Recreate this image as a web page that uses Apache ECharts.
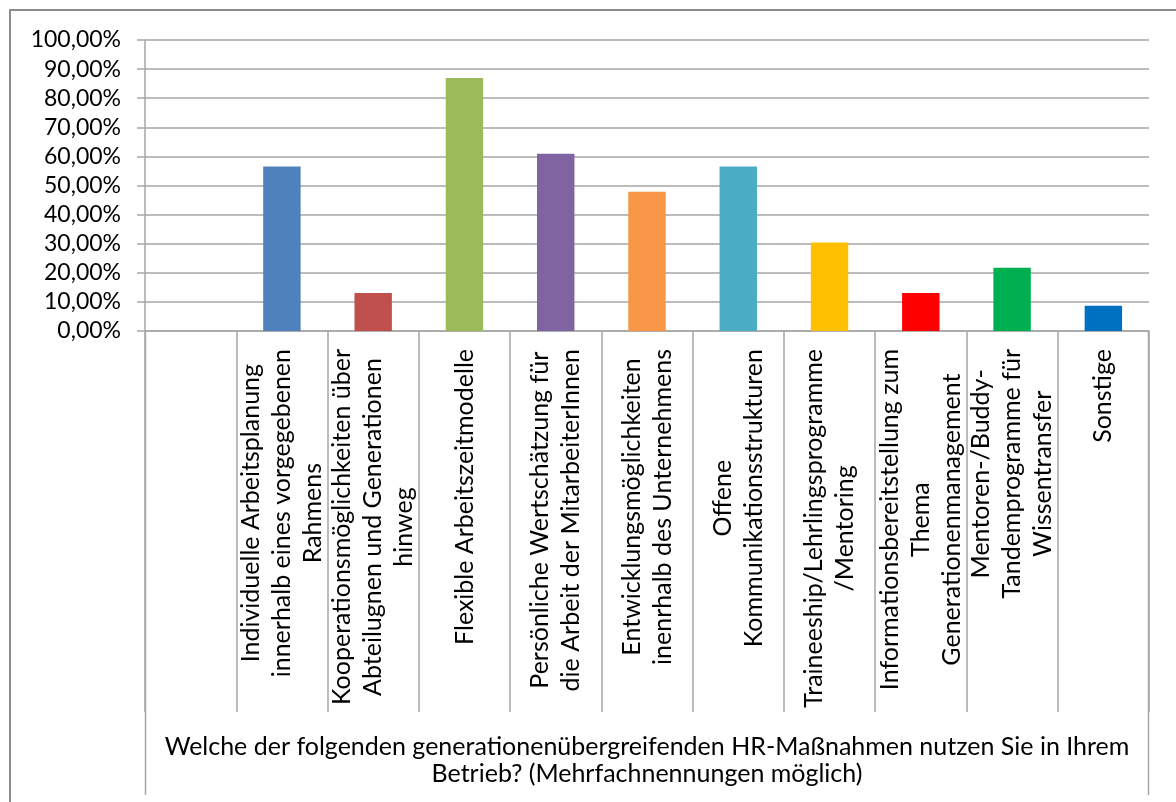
<!DOCTYPE html>
<html>
<head>
<meta charset="utf-8">
<script src="https://cdn.jsdelivr.net/npm/echarts@6/dist/echarts.min.js"></script>
<style>
html,body{margin:0;padding:0;background:#fff;overflow:hidden;}
#chart{width:1176px;height:802px;}
</style>
</head>
<body>
<div id="chart"></div>
<script>
const categories = [
  '',
  'Individuelle Arbeitsplanung\ninnerhalb eines vorgegebenen\nRahmens',
  'Kooperationsmöglichkeiten über\nAbteilugnen und Generationen\nhinweg',
  'Flexible Arbeitszeitmodelle',
  'Persönliche Wertschätzung für\ndie Arbeit der MitarbeiterInnen',
  'Entwicklungsmöglichkeiten\ninenrhalb des Unternehmens',
  'Offene\nKommunikationsstrukturen',
  'Traineeship/Lehrlingsprogramme\n/Mentoring',
  'Informationsbereitstellung zum\nThema\nGenerationenmanagement',
  'Mentoren-/Buddy-\nTandemprogramme für\nWissentransfer',
  'Sonstige'
];
const values = [null, 56.52, 13.04, 86.96, 60.87, 47.83, 56.52, 30.43, 13.04, 21.74, 8.70];
const barColors = ['#4F81BD', '#4F81BD', '#C0504D', '#9BBB59', '#8064A2', '#F79646', '#4BACC6', '#FFC000', '#FF0000', '#00B050', '#0070C0'];
const groupTitle = 'Welche der folgenden generationenübergreifenden HR-Maßnahmen nutzen Sie in Ihrem\nBetrieb? (Mehrfachnennungen möglich)';
const yTicks = {min: 0, max: 100, interval: 10};

const FONT = 'Lato';
const GRID_COLOR = '#a6a6a6';
const GROUP_TICK_LEN = 464;
const frame = {
  type: 'rect', silent: true, z: -10,
  shape: {x: 10, y: 10, width: 1250, height: 900},
  style: {fill: 'none', stroke: '#8c8c8c', lineWidth: 2}
};
const chart = echarts.init(document.getElementById('chart'), null, {renderer: 'canvas'});
chart.setOption({
  animation: false,
  backgroundColor: '#fff',
  textStyle: {fontFamily: FONT},
  graphic: [frame],
  grid: {left: 145, top: 40, right: 27, bottom: 471, containLabel: false},
  xAxis: [{
    type: 'category',
    data: categories,
    position: 'bottom',
    axisLine: {show: true, lineStyle: {color: GRID_COLOR, width: 1.5}},
    axisTick: {show: true, interval: 0, length: 381, lineStyle: {color: GRID_COLOR, width: 1.5}},
    axisLabel: {
      interval: 0, rotate: 90, margin: 18,
      color: '#000', fontFamily: FONT, fontSize: 25,
      formatter: function (v) {
        if (!v) return '';
        return v.split('\n').map(function (l) { return '{c|' + l + '}'; }).join('\n');
      },
      rich: {c: {align: 'center', fontFamily: FONT, fontSize: 25, lineHeight: 31, color: '#000'}}
    },
    splitLine: {show: false}
  }, {
    type: 'value',
    min: 0, max: 1, interval: 1,
    position: 'bottom',
    offset: 0,
    name: groupTitle,
    nameLocation: 'middle',
    nameGap: 402,
    nameTextStyle: {color: '#000', fontFamily: FONT, fontSize: 25, lineHeight: 27, align: 'center', verticalAlign: 'top'},
    axisLine: {show: false},
    axisTick: {show: false},
    axisLabel: {show: false},
    splitLine: {show: false}
  }],
  yAxis: {
    type: 'value',
    min: yTicks.min, max: yTicks.max, interval: yTicks.interval,
    axisLine: {show: true, lineStyle: {color: GRID_COLOR, width: 1.5}},
    axisTick: {show: true, length: 8, lineStyle: {color: GRID_COLOR, width: 1.5}},
    axisLabel: {
      margin: 24, color: '#000', fontFamily: FONT, fontSize: 23,
      formatter: function (v) { return v.toFixed(2).replace('.', ',') + '%'; }
    },
    splitLine: {show: true, lineStyle: {color: GRID_COLOR, width: 1.5}}
  },
  series: [{
    type: 'bar',
    xAxisIndex: 0,
    barWidth: '41%',
    data: values.map(function (v, i) {
      return {value: v, itemStyle: {color: barColors[i]}};
    })
  }]
});

// outer group bracket: its two ends sit on the outer category boundaries (from the category scale)
const n = categories.length;
const c0 = chart.convertToPixel({xAxisIndex: 0}, 0);
const c1 = chart.convertToPixel({xAxisIndex: 0}, 1);
const cN = chart.convertToPixel({xAxisIndex: 0}, n - 1);
const band = c1 - c0;
const xl = Math.round(c0 - band / 2) + 0.5;
const xr = Math.round(cN + band / 2) - 0.5;
const y0 = chart.convertToPixel({yAxisIndex: 0}, 0);
chart.setOption({
  graphic: [frame, {
    type: 'line', silent: true, z: 100,
    shape: {x1: xl, y1: y0, x2: xl, y2: y0 + GROUP_TICK_LEN},
    style: {stroke: GRID_COLOR, lineWidth: 1.5}
  }, {
    type: 'line', silent: true, z: 100,
    shape: {x1: xr, y1: y0, x2: xr, y2: y0 + GROUP_TICK_LEN},
    style: {stroke: GRID_COLOR, lineWidth: 1.5}
  }]
});
</script>
</body>
</html>
